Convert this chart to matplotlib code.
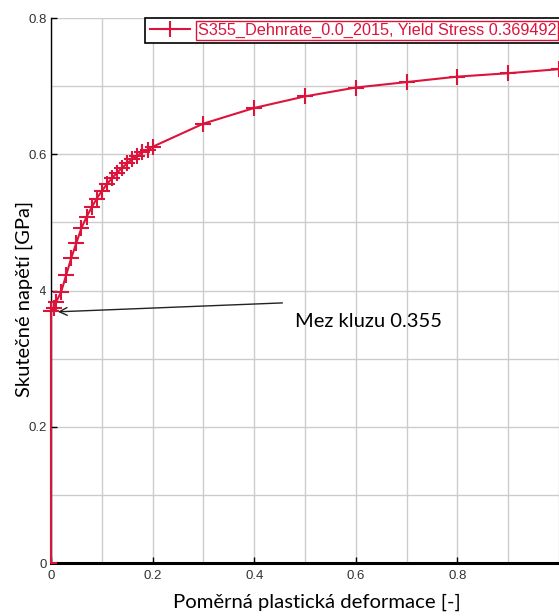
import matplotlib
matplotlib.use('Agg')
import matplotlib.pyplot as plt
from matplotlib.ticker import MultipleLocator

RED = '#dc143c'

# elastic part (no markers)
elastic_x = [0.01, 0.0, 0.0]
elastic_y = [0.0, 0.0, 0.3695]

# plastic curve with markers
strain = [0.0, 0.005, 0.01, 0.02, 0.03, 0.04, 0.05, 0.06, 0.07, 0.08, 0.09, 0.10,
          0.11, 0.12, 0.13, 0.14, 0.15, 0.16, 0.17, 0.18, 0.19, 0.20,
          0.3, 0.4, 0.5, 0.6, 0.7, 0.8, 0.9, 1.0]
stress = [0.3695, 0.375, 0.383, 0.398, 0.423, 0.448, 0.470, 0.492, 0.508, 0.522, 0.535, 0.546,
          0.556, 0.565, 0.573, 0.580, 0.587, 0.593, 0.598, 0.603, 0.607, 0.611,
          0.645, 0.668, 0.685, 0.698, 0.706, 0.714, 0.719, 0.725]

legend_label = 'S355_Dehnrate_0.0_2015, Yield Stress 0.369492'
xticks = [0, 0.2, 0.4, 0.6, 0.8]
xticklabels = ['0', '0.2', '0.4', '0.6', '0.8']
yticks = [0, 0.2, 0.4, 0.6, 0.8]
yticklabels = ['0', '0.2', '0.4', '0.6', '0.8']

fig = plt.figure(figsize=(5.59, 6.16), dpi=100)
ax = fig.add_axes([0.0912, 0.086, 0.9088, 0.8847])

ax.plot(elastic_x, elastic_y, color=RED, lw=1.5, clip_on=False, zorder=4)
ax.plot(strain, stress, color=RED, lw=1.5, marker='+', markersize=12, markeredgewidth=1.5,
        clip_on=False, zorder=4, label=legend_label)

ax.set_xlim(0, 1.0)
ax.set_ylim(0, 0.8)
ax.set_xticks(xticks)
ax.set_xticklabels(xticklabels)
ax.set_yticks(yticks)
ax.set_yticklabels(yticklabels)
ax.xaxis.set_minor_locator(MultipleLocator(0.1))
ax.yaxis.set_minor_locator(MultipleLocator(0.1))
ax.grid(True, which='both', color='#cccccc', lw=1)
ax.set_axisbelow(True)
ax.tick_params(which='major', direction='in', length=4, width=1, labelsize=9.5,
               labelcolor='#333333')
ax.tick_params(axis='x', which='major', pad=5)
ax.tick_params(axis='y', which='major', pad=3)
ax.tick_params(which='minor', length=0)
for lab in ax.get_xticklabels() + ax.get_yticklabels():
    lab.set_family('Liberation Sans')

ax.spines['top'].set_visible(False)
ax.spines['right'].set_visible(False)
ax.spines['left'].set_linewidth(1)
ax.spines['bottom'].set_linewidth(2.2)

# annotation
ax.annotate('', xy=(0.008, 0.3686), xytext=(0.461, 0.382),
            arrowprops=dict(arrowstyle='->', color='#222222', lw=1, mutation_scale=14))
ax.text(0.48, 0.354, 'Mez kluzu 0.355', family='Lato', fontsize=14.5, va='center', ha='left')

# axis labels (white box hides part of the 0.4 tick label, as in the original)
fig.text(0.043, 0.515, 'Skutečné napětí [GPa]', family='Lato', fontsize=14.5,
         rotation=90, ha='center', va='center',
         bbox=dict(facecolor='white', edgecolor='none', pad=5))
fig.text(0.566, 0.022, 'Poměrná plastická deformace [-]', family='Lato', fontsize=14.6,
         ha='center', va='center')

leg = ax.legend(loc='upper left', bbox_to_anchor=(0.185, 1.0), borderaxespad=0,
                handlelength=2.5, handletextpad=0.45, fancybox=False, framealpha=1,
                edgecolor='black', prop={'family': 'Liberation Sans', 'size': 11.7},
                borderpad=0.3)
leg.get_frame().set_linewidth(1.2)
for t in leg.get_texts():
    t.set_color(RED)
    t.set_bbox(dict(facecolor='white', edgecolor=RED, lw=1, pad=1))

plt.savefig('out.png', dpi=100)
plt.close()
